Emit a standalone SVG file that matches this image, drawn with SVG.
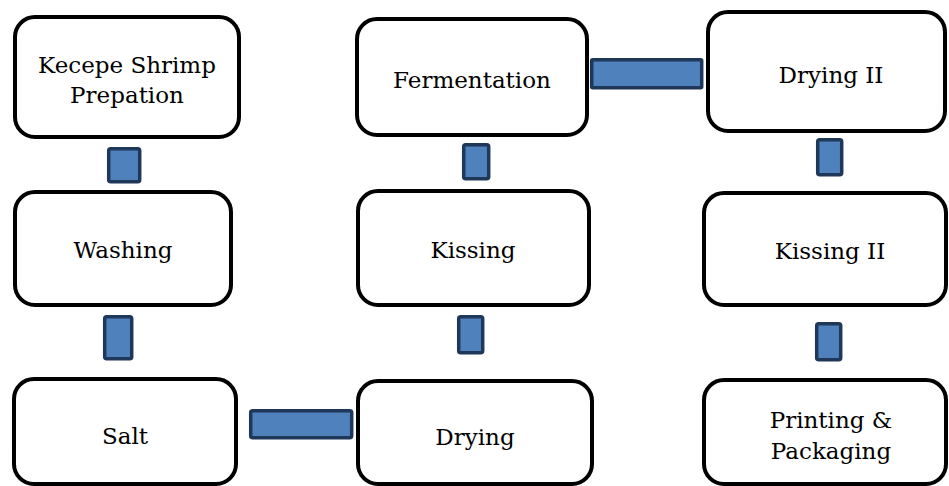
<svg xmlns="http://www.w3.org/2000/svg" width="949" height="486" viewBox="0 0 949 486">
<style>
.box{fill:#fff;stroke:#000;stroke-width:4}
.lbl{font-family:"DejaVu Serif","Liberation Serif",serif;font-size:23px;fill:#000;text-anchor:middle}
.con{fill:#4F81BD;stroke:#1F3759;stroke-width:3.5}
</style>
<rect width="949" height="486" fill="#fff"/>
<g id="connectors">
<rect class="con" x="108.7" y="148.7" width="31" height="33" rx="2"/>
<rect class="con" x="104.7" y="316.7" width="27" height="42" rx="2"/>
<rect class="con" x="250.7" y="410.7" width="101" height="27" rx="2"/>
<rect class="con" x="458.7" y="316.7" width="24" height="36" rx="2"/>
<rect class="con" x="463.7" y="144.7" width="25" height="34" rx="2"/>
<rect class="con" x="591.7" y="59.7" width="110" height="28" rx="1"/>
<rect class="con" x="817.7" y="139.7" width="24" height="35" rx="2"/>
<rect class="con" x="816.7" y="323.7" width="24" height="36" rx="2"/>
</g>
<g id="n-kecepe">
<rect class="box" x="15" y="17" width="224" height="120" rx="20"/>
<text class="lbl" x="127" y="73">Kecepe Shrimp</text>
<text class="lbl" x="127" y="103">Prepation</text>
</g>
<g id="n-washing">
<rect class="box" x="15" y="192" width="216" height="113" rx="20"/>
<text class="lbl" x="123" y="258">Washing</text>
</g>
<g id="n-salt">
<rect class="box" x="14" y="379" width="222" height="105" rx="20"/>
<text class="lbl" x="125" y="444">Salt</text>
</g>
<g id="n-drying">
<rect class="box" x="358" y="381" width="234" height="103" rx="20"/>
<text class="lbl" x="475" y="445">Drying</text>
</g>
<g id="n-kissing">
<rect class="box" x="358" y="191" width="231" height="114" rx="20"/>
<text class="lbl" x="473" y="258">Kissing</text>
</g>
<g id="n-fermentation">
<rect class="box" x="357" y="19" width="230" height="116" rx="20"/>
<text class="lbl" x="472" y="88">Fermentation</text>
</g>
<g id="n-drying2">
<rect class="box" x="708" y="12" width="237" height="119" rx="20"/>
<text class="lbl" x="831" y="83">Drying II</text>
</g>
<g id="n-kissing2">
<rect class="box" x="704" y="193" width="242" height="112" rx="20"/>
<text class="lbl" x="830" y="259">Kissing II</text>
</g>
<g id="n-printing">
<rect class="box" x="704" y="380" width="242" height="104" rx="20"/>
<text class="lbl" x="831" y="428">Printing &amp;</text>
<text class="lbl" x="831" y="459">Packaging</text>
</g>
</svg>
